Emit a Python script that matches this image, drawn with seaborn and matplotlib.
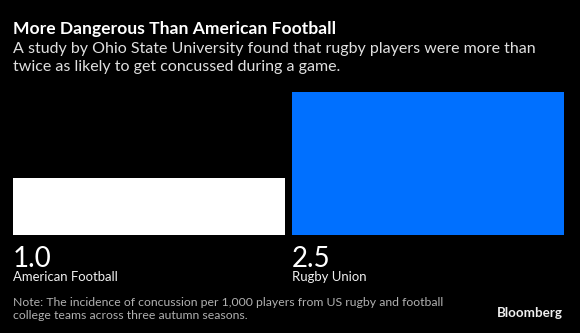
import matplotlib
matplotlib.use("Agg")
import matplotlib.pyplot as plt
import matplotlib.transforms as mtransforms
import seaborn as sns
import pandas as pd

categories = ["American Football", "Rugby Union"]
values = [1.0, 2.5]
colors = ["#FFFFFF", "#0070FF"]

title = "More Dangerous Than American Football"
subtitle_lines = ["A study by Ohio State University found that rugby players were more than",
                  "twice as likely to get concussed during a game."]
note_lines = ["Note: The incidence of concussion per 1,000 players from US rugby and football",
              "college teams across three autumn seasons."]
source = "Bloomberg"

sns.set_theme(style="white")
plt.rcParams["font.family"] = ["Lato", "DejaVu Sans"]

W, H = 580, 333
fig = plt.figure(figsize=(W / 100, H / 100), dpi=100, facecolor="black")

def fx(px):
    return px / W

def fy(py):
    return 1 - py / H

ax = fig.add_axes([fx(13), fy(235), fx(564 - 13), (235 - 92) / H])
ax.set_facecolor("black")
df = pd.DataFrame({"cat": categories, "val": values})
sns.barplot(data=df, x="cat", y="val", hue="cat", palette=colors, width=0.975,
            legend=False, ax=ax, saturation=1, linewidth=0)
ax.set_xlim(-0.4875, 1.4875)
ax.set_ylim(0, 2.5)
ax.axis("off")

trans = mtransforms.blended_transform_factory(ax.transData, fig.transFigure)
for i, (c, v) in enumerate(zip(categories, values)):
    ax.text(i - 0.4875, fy(267), f"{v:.1f}", transform=trans, color="white",
            fontsize=20, fontweight="normal", va="baseline", ha="left")
    ax.text(i - 0.4875, fy(281), c, transform=trans, color="#f0f0f0",
            fontsize=9.45, va="baseline", ha="left")

fig.text(fx(13), fy(34), title, color="white", fontsize=12.6, fontweight="bold",
         va="baseline", ha="left")
for line, base in zip(subtitle_lines, [53, 71.5]):
    fig.text(fx(13), fy(base), line, color="#e0e0e0", fontsize=11.5,
             va="baseline", ha="left")
for line, base in zip(note_lines, [306, 319]):
    fig.text(fx(13), fy(base), line, color="#b0b0b0", fontsize=8.8,
             va="baseline", ha="left")
fig.text(fx(563), fy(317), source, color="#f0f0f0", fontsize=9.6, fontweight="bold",
         va="baseline", ha="right")

fig.savefig("out.png", dpi=100, facecolor="black")
